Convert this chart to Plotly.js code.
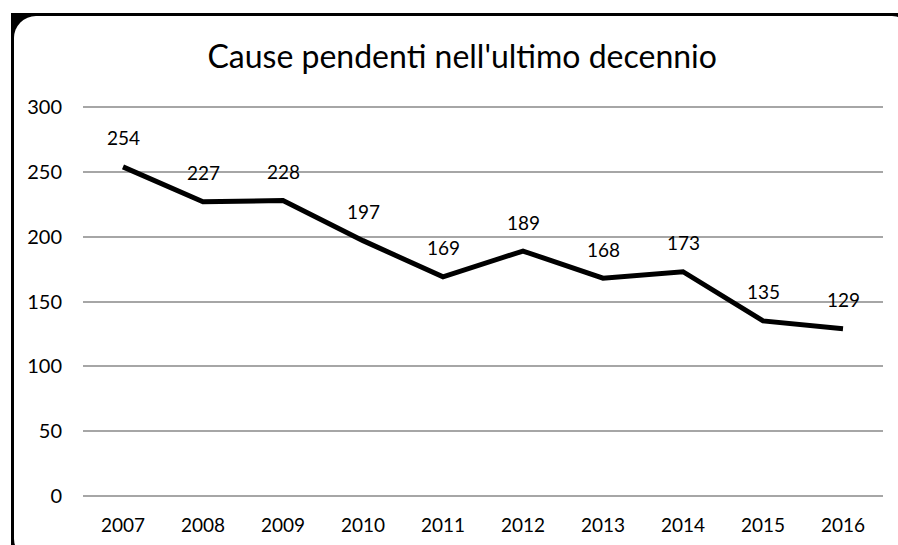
<!DOCTYPE html>
<html>
<head>
<meta charset="utf-8">
<script src="https://cdn.plot.ly/plotly-3.0.1.min.js"></script>
<style>
  html, body { margin: 0; padding: 0; background: #ffffff; width: 898px; height: 545px; overflow: hidden; }
  #frameOuter { position: absolute; left: 11px; top: 13px; width: 900px; height: 545px; background: #000; }
  #frameInner { position: absolute; left: 14px; top: 16px; width: 900px; height: 545px; background: #fff; border-radius: 22px; }
  #chart { position: absolute; left: 0; top: 0; width: 898px; height: 545px; }
</style>
</head>
<body>
<div id="frameOuter"></div>
<div id="frameInner"></div>
<div id="chart"></div>
<script>
const years = ["2007","2008","2009","2010","2011","2012","2013","2014","2015","2016"];
const pending = [254, 227, 228, 197, 169, 189, 168, 173, 135, 129];
const yTicks = [0, 50, 100, 150, 200, 250, 300];
const chartTitle = "Cause pendenti nell'ultimo decennio";

const FONT = "Lato, 'Open Sans', sans-serif";

const trace = {
  x: years,
  y: pending,
  type: 'scatter',
  mode: 'lines',
  line: { color: '#000000', width: 5 },
  hoverinfo: 'skip',
  showlegend: false
};

const annotations = years.map((yr, i) => ({
  x: i, y: pending[i], xref: 'x', yref: 'y',
  text: String(pending[i]),
  showarrow: false,
  xanchor: 'center', yanchor: 'middle',
  yshift: 29,
  font: { family: FONT, size: 19, color: '#000' }
}));

const layout = {
  width: 898, height: 545,
  paper_bgcolor: 'rgba(0,0,0,0)',
  plot_bgcolor: 'rgba(0,0,0,0)',
  margin: { l: 83, r: 15, t: 106, b: 48 },
  title: {
    text: chartTitle,
    x: 0.474, xref: 'paper', xanchor: 'center',
    y: 0.895, yref: 'container', yanchor: 'middle',
    font: { family: FONT, size: 32, color: '#000' }
  },
  xaxis: {
    type: 'category',
    range: [-0.5, 9.5],
    showgrid: false, zeroline: false, showline: false,
    ticks: '', ticklen: 0,
    ticklabelstandoff: 15,
    tickfont: { family: FONT, size: 19, color: '#000' },
    fixedrange: true
  },
  yaxis: {
    range: [-1, 301],
    tickvals: yTicks,
    showgrid: true, gridcolor: '#a6a6a6', gridwidth: 2,
    zeroline: false, showline: false,
    ticks: '', ticklen: 0,
    ticklabelstandoff: 20,
    tickfont: { family: FONT, size: 20, color: '#000' },
    fixedrange: true
  },
  annotations: annotations
};

Plotly.newPlot('chart', [trace], layout, { displayModeBar: false, staticPlot: true });
</script>
</body>
</html>
